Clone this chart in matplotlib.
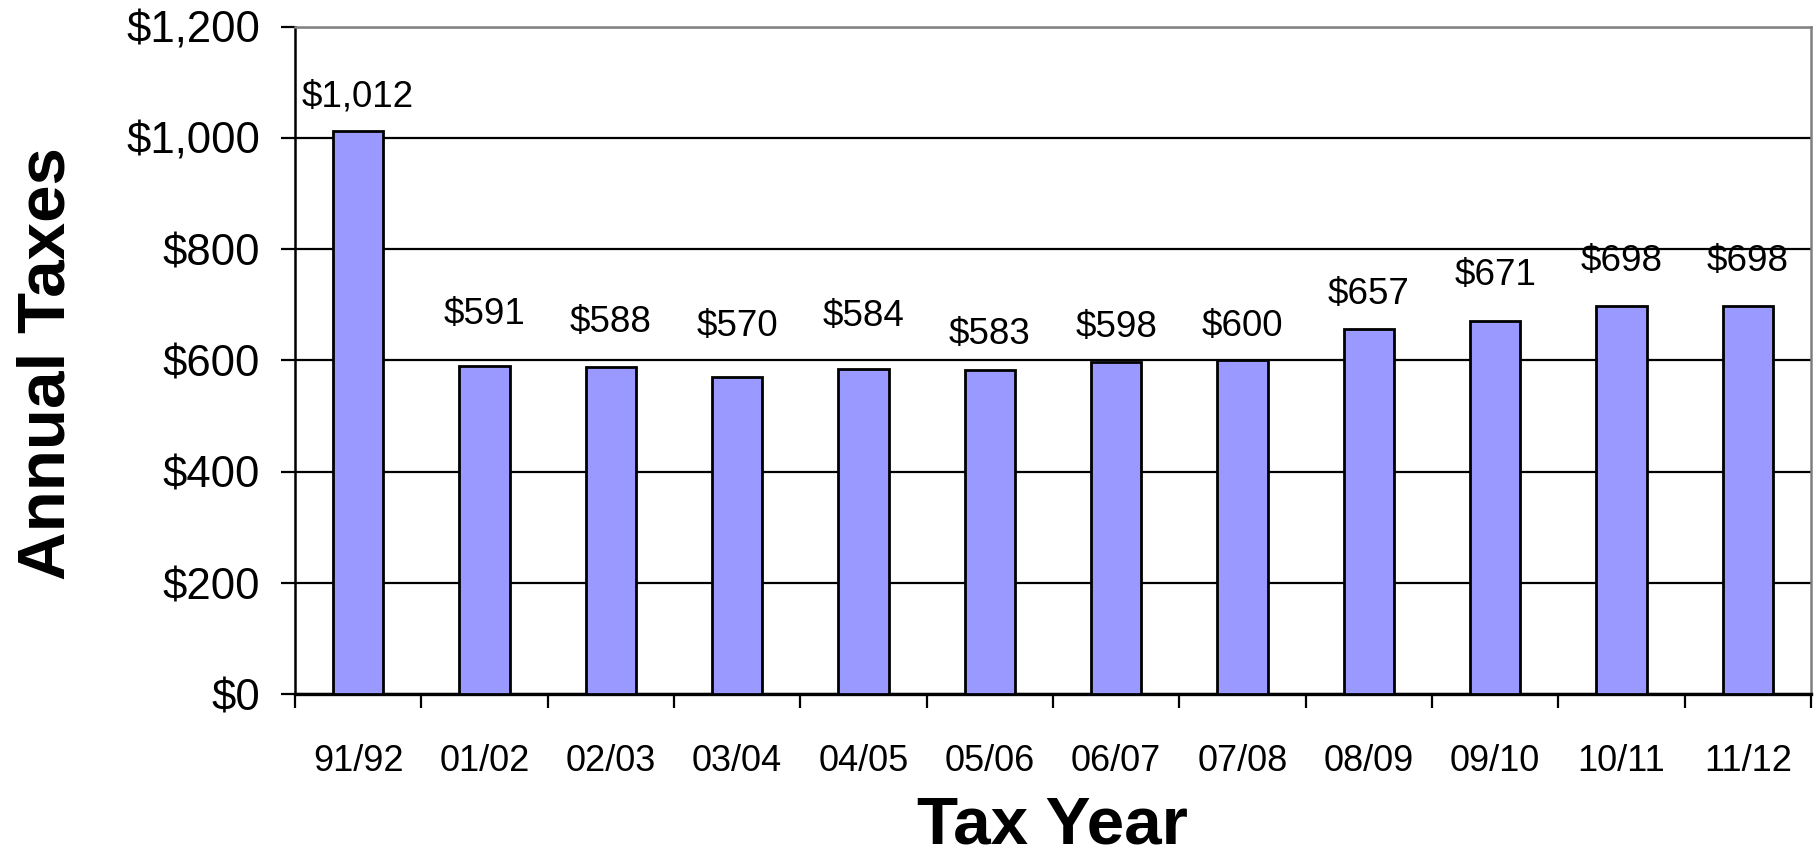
import matplotlib
matplotlib.use("Agg")
import matplotlib.pyplot as plt
import numpy as np

categories = ["91/92", "01/02", "02/03", "03/04", "04/05", "05/06",
              "06/07", "07/08", "08/09", "09/10", "10/11", "11/12"]
values = [1012, 591, 588, 570, 584, 583, 598, 600, 657, 671, 698, 698]
labels = ["$1,012", "$591", "$588", "$570", "$584", "$583",
          "$598", "$600", "$657", "$671", "$698", "$698"]
yticks = [0, 200, 400, 600, 800, 1000, 1200]
ytick_labels = ["$0", "$200", "$400", "$600", "$800", "$1,000", "$1,200"]
# label vertical offsets above bar tops (pixels), as placed in the reference
label_offsets_px = [34, 51, 45, 51, 53, 35, 34.5, 33.5, 34, 46, 44, 44]

plt.rcParams['font.family'] = ['Liberation Sans', 'DejaVu Sans']

W, H = 1818, 858
fig = plt.figure(figsize=(W / 100, H / 100), dpi=100)
ax = fig.add_axes([295 / W, 1 - 694.3 / H, (1811 - 295) / W, (694.3 - 26.7) / H])

x = np.arange(len(categories))
ax.bar(x, values, width=0.40, color="#9999FF", edgecolor="black",
       linewidth=2.0, zorder=3)

ax.set_xlim(-0.5, len(categories) - 0.5)
ax.set_ylim(0, 1200)

ax.set_yticks(yticks)
ax.set_yticklabels(ytick_labels, fontsize=31.5)
ax.yaxis.grid(True, color="black", linewidth=1.6, zorder=1)
ax.set_axisbelow(True)

ax.set_xticks(x)
ax.set_xticklabels(categories, fontsize=26)
ax.set_xticks(np.arange(len(categories) + 1) - 0.5, minor=True)
ax.tick_params(axis="x", which="major", length=0, pad=36)
ax.tick_params(axis="x", which="minor", length=10, width=1.6, direction="out", color="black")
ax.tick_params(axis="y", which="major", length=10, width=1.6, direction="out", pad=15)

for side in ["top", "right"]:
    ax.spines[side].set_color("#808080")
    ax.spines[side].set_linewidth(1.8)
ax.spines["left"].set_color("black")
ax.spines["left"].set_linewidth(1.8)
ax.spines["bottom"].set_color("black")
ax.spines["bottom"].set_linewidth(2.4)

for xi, v, lab, off in zip(x, values, labels, label_offsets_px):
    ax.annotate(lab, xy=(xi, v), xytext=(0, off * 0.72), textcoords="offset points",
                ha="center", va="center", fontsize=26.5, zorder=4)

fig.text(48 / W, 1 - 364 / H, "Annual Taxes", rotation=90, ha="center", va="center",
         fontsize=48.5, fontweight="bold")
fig.text(1052 / W, 1 - 843 / H, "Tax Year", ha="center", va="baseline",
         fontsize=48.5, fontweight="bold")

fig.savefig("out.png", dpi=100, facecolor="white")
